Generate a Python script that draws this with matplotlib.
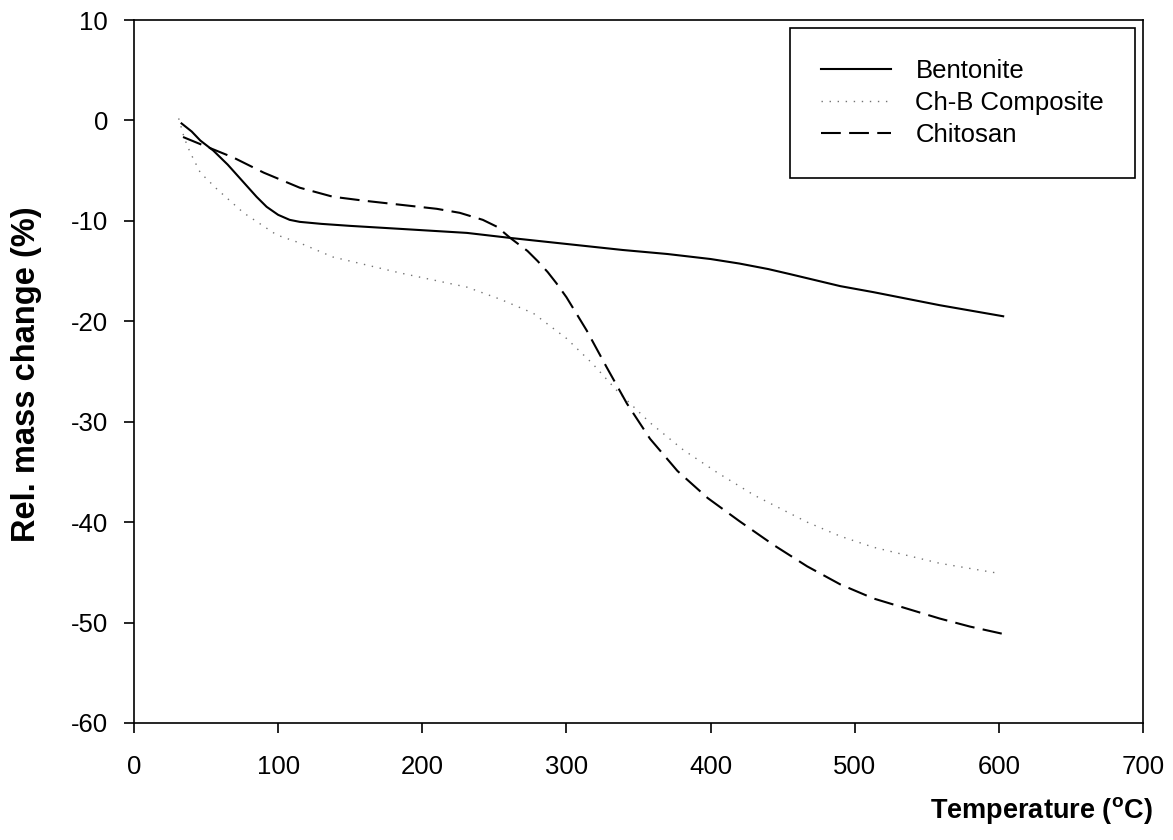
import matplotlib
matplotlib.use("Agg")
import matplotlib.pyplot as plt

plt.rcParams['font.family'] = ['Liberation Sans', 'DejaVu Sans']
plt.rcParams['mathtext.default'] = 'regular'
plt.rcParams['axes.unicode_minus'] = False

# values (temperature in C, relative mass change in %)
bent_t = [33, 40, 46, 55, 65, 75, 85, 92, 100, 108, 115, 130, 150, 185, 231, 261,
          300, 339, 370, 400, 420, 440, 455, 490, 513, 559, 603]
bent_m = [-0.3, -1.1, -2.0, -3.0, -4.4, -6.0, -7.6, -8.6, -9.4, -9.9, -10.1, -10.3,
          -10.5, -10.8, -11.2, -11.7, -12.3, -12.9, -13.3, -13.8, -14.25, -14.8,
          -15.3, -16.5, -17.1, -18.4, -19.5]

comp_t = [31, 35, 39, 46, 58, 76, 99, 115, 138, 185, 231, 254, 277, 300, 318, 335,
          358, 381, 405, 421, 430, 467, 490, 513, 559, 600]
comp_m = [0.2, -1.8, -3.2, -5.2, -6.9, -9.2, -11.4, -12.2, -13.6, -15.2, -16.6,
          -17.8, -19.2, -21.7, -24.2, -26.9, -30.1, -32.8, -35.1, -36.5, -37.3,
          -40.0, -41.4, -42.5, -44.1, -45.1]

chit_t = [34, 45, 57, 69, 90, 115, 138, 160, 185, 210, 226, 242, 252, 261, 273, 280,
          287, 293, 300, 314, 328, 342, 358, 377, 398, 420, 444, 467, 490, 513, 536,
          559, 580, 602]
chit_m = [-1.65, -2.3, -3.0, -3.7, -5.2, -6.7, -7.6, -8.0, -8.4, -8.8, -9.2, -9.9,
          -10.6, -11.7, -13.0, -14.0, -15.1, -16.2, -17.6, -20.9, -24.6, -28.2, -31.7,
          -34.9, -37.6, -39.9, -42.3, -44.4, -46.2, -47.6, -48.6, -49.6, -50.4, -51.1]

xticks = [0, 100, 200, 300, 400, 500, 600, 700]
yticks = [-60, -50, -40, -30, -20, -10, 0, 10]

fig = plt.figure(figsize=(11.73, 8.4), dpi=100)
ax = fig.add_axes([134 / 1173, 1 - 723 / 840, (1143 - 134) / 1173, (723 - 20) / 840])

ax.plot(bent_t, bent_m, color='black', lw=1.5, label='Bentonite')
ax.plot(comp_t, comp_m, color='0.45', lw=1.0, linestyle=(0, (1, 4.8)), label='Ch-B Composite')
ax.plot(chit_t, chit_m, color='black', lw=1.5, linestyle=(0, (9.5, 4)), label='Chitosan')

ax.set_xlim(0, 700)
ax.set_ylim(-60, 10)
ax.set_xticks(xticks)
ax.set_yticks(yticks)
ax.tick_params(axis='both', direction='out', length=7.2, width=1.2, labelsize=18.5)
ax.tick_params(axis='x', pad=16)
ax.tick_params(axis='y', pad=11.5)
for s in ax.spines.values():
    s.set_linewidth(1.2)

fig.text(27 / 1173, 1 - 374 / 840, 'Rel. mass change (%)', fontsize=23.5,
         fontweight='bold', rotation=90, ha='center', va='center')
fig.text(1153 / 1173, 1 - 810 / 840, 'Temperature ($^{o}$C)', fontsize=19.5,
         fontweight='bold', ha='right', va='center')

leg = ax.legend(loc='upper left', bbox_to_anchor=(790 / 1173, 1 - 28 / 840),
                bbox_transform=fig.transFigure, borderaxespad=0, fontsize=18.5,
                fancybox=False, edgecolor='black', framealpha=1, handlelength=2.75,
                handletextpad=0.93, labelspacing=0.32, borderpad=1.2)
leg.get_frame().set_linewidth(1.2)

fig.savefig('out.png', dpi=100)
